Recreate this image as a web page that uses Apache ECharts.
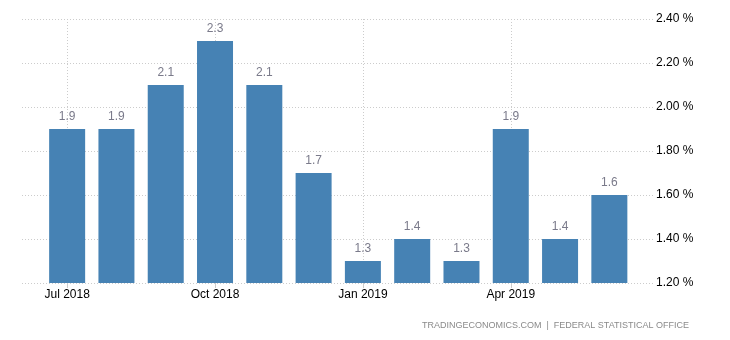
<!DOCTYPE html>
<html><head><meta charset="utf-8">
<script src="https://cdn.jsdelivr.net/npm/echarts@6/dist/echarts.min.js"></script>
<style>html,body{margin:0;padding:0;background:#fff}#c{width:730px;height:340px}</style>
</head><body><div id="c"></div>
<script>
const categories = ['Jul 2018','Aug 2018','Sep 2018','Oct 2018','Nov 2018','Dec 2018','Jan 2019','Feb 2019','Mar 2019','Apr 2019','May 2019','Jun 2019'];
const values = [1.9,1.9,2.1,2.3,2.1,1.7,1.3,1.4,1.3,1.9,1.4,1.6];
const yMin = 1.2, yMax = 2.4, yStep = 0.2;
const source = 'TRADINGECONOMICS.COM  |  FEDERAL STATISTICAL OFFICE';

const chart = echarts.init(document.getElementById('c'));
const font = 'Arial, "Liberation Sans", sans-serif';
chart.setOption({
  animation: false,
  grid: [
    {left: 42.5, right: 96, top: 19, bottom: 57},
    {left: 22, right: 77, top: 19, bottom: 57}
  ],
  xAxis: [
    {type: 'category', gridIndex: 0, data: categories, boundaryGap: true,
     axisLine: {show: false},
     axisTick: {show: true, interval: 2, alignWithLabel: true, length: 5, lineStyle: {color: '#ccc'}},
     axisLabel: {interval: 2, color: '#000', fontSize: 12, fontFamily: font, margin: 6},
     splitLine: {show: true, interval: 2, alignWithLabel: true, lineStyle: {color: '#ccc', type: [1, 2], width: 1}}},
    {type: 'value', gridIndex: 1, show: false, min: 0, max: 1}
  ],
  yAxis: [
    {type: 'value', gridIndex: 0, min: yMin, max: yMax, interval: yStep, show: false, splitLine: {show: false}},
    {type: 'value', gridIndex: 1, position: 'right', min: yMin, max: yMax, interval: yStep,
     axisLine: {show: false}, axisTick: {show: false},
     axisLabel: {color: '#000', fontSize: 12, fontFamily: font, margin: 3,
                 formatter: v => v.toFixed(2) + ' %'},
     splitLine: {show: true, lineStyle: {color: '#ccc', type: [1, 2], width: 1}}}
  ],
  series: [{
    type: 'bar', xAxisIndex: 0, yAxisIndex: 0, data: values, barWidth: 36,
    itemStyle: {color: '#4682b4'},
    label: {show: true, position: 'top', distance: 6, color: '#7a7a8a', fontSize: 12, fontFamily: font,
            formatter: p => p.value.toFixed(1)}
  }],
  graphic: [{
    type: 'text', right: 41, top: 321,
    style: {text: source, fill: '#8a8a8a', fontSize: 9, fontFamily: font}
  }]
});
</script></body></html>
